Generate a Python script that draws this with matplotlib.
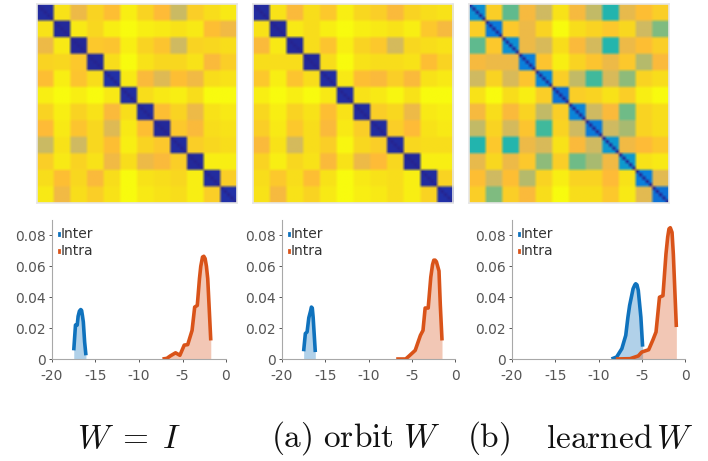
import matplotlib
matplotlib.use('Agg')
import matplotlib.pyplot as plt
from matplotlib.colors import LinearSegmentedColormap
import numpy as np

# upper triangles of the class-by-class similarity maps (0 = dark blue, 1 = yellow)
upper_identity = [
    [.96, .84, .93, .89, .98, .93, .88, .77, .92, .95, .97],
    [.97, .94, .98, 1.0, .98, .97, .96, .97, .89, .85],
    [.91, .90, .98, .93, .90, .78, .93, .94, .95],
    [.95, 1.0, .96, .94, .94, .96, .87, .92],
    [.97, .87, .81, .89, .85, .95, .96],
    [.95, .97, .98, .95, 1.0, 1.0],
    [.89, .93, .84, .96, .97],
    [.91, .87, .95, .96],
    [.92, .94, .95],
    [.98, .98],
    [.92],
]
upper_orbit = [
    [.96, .87, .95, .91, .98, .94, .92, .87, .93, .95, .96],
    [.97, .95, .98, 1.0, .98, .97, .96, .98, .91, .86],
    [.95, .90, .98, .93, .91, .79, .94, .95, .96],
    [.95, 1.0, .96, .95, .95, .96, .89, .93],
    [.97, .89, .87, .92, .87, .96, .97],
    [.96, .97, .99, .96, 1.0, 1.0],
    [.92, .94, .84, .97, .98],
    [.92, .88, .96, .97],
    [.94, .95, .95],
    [.98, .98],
    [.93],
]
upper_learned = [
    [.92, .62, .86, .78, .96, .86, .76, .52, .83, .89, .92],
    [.91, .84, .93, 1.0, .95, .93, .91, .94, .78, .66],
    [.84, .80, .95, .87, .79, .53, .84, .89, .92],
    [.90, .98, .93, .90, .84, .91, .74, .87],
    [.92, .76, .58, .80, .68, .93, .95],
    [.92, .93, .96, .92, .98, 1.0],
    [.78, .87, .64, .93, .95],
    [.78, .72, .93, .95],
    [.85, .88, .91],
    [.96, .97],
    [.82],
]
# within-class value of each block, then the value on the fine diagonal
block_identity = [.04, .03, .02, .03, .06, .05, .04, .03, .04, .03, .04, .06]
block_orbit = [.04, .03, .03, .03, .05, .05, .04, .04, .04, .03, .04, .06]
block_learned = [.33, .26, .33, .27, .30, .24, .29, .26, .36, .37, .27, .24]
diag_identity = [.0] * 12
diag_orbit = [.0] * 12
diag_learned = [.0] * 12

parula = LinearSegmentedColormap.from_list('parula', [
    (0.0, '#26238f'), (0.12, '#1c3fc0'), (0.27, '#0a7fdc'), (0.42, '#10a8c8'),
    (0.55, '#28b8a8'), (0.66, '#80bc80'), (0.78, '#cfba62'), (0.88, '#ffba38'),
    (0.95, '#f8dc1c'), (1.0, '#f8fb0e'),
])

# kernel density curves, x = log distance
inter_x = [
    [-17.5, -17.3, -17.1, -17.0, -16.85, -16.7, -16.6, -16.5, -16.4, -16.25, -16.1],
    [-17.5, -17.3, -17.1, -16.9, -16.7, -16.6, -16.5, -16.4, -16.15],
    [-8.5, -7.9, -7.3, -6.85, -6.6, -6.4, -6.0, -5.8, -5.7, -5.55, -5.4, -5.1, -4.9],
]
inter_y = [
    [.0056, .022, .022, .0276, .031, .032, .0315, .028, .024, .011, .0024],
    [.005, .0165, .0175, .0267, .031, .0336, .033, .027, .0045],
    [0, .0013, .0067, .0153, .027, .0347, .0455, .048, .0487, .048, .0444, .027, .008],
]
intra_x = [
    [-7.3, -6.8, -6.4, -5.8, -5.3, -4.8, -4.4, -3.9, -3.6, -3.3, -3.05, -2.9, -2.7, -2.55, -2.4, -2.25, -2.1, -1.95, -1.75],
    [-6.8, -5.7, -5.3, -4.6, -4.0, -3.7, -3.45, -3.1, -2.8, -2.6, -2.45, -2.3, -2.15, -1.85, -1.7, -1.5],
    [-8.0, -6.35, -5.4, -5.0, -4.2, -3.7, -3.35, -2.95, -2.55, -2.2, -2.0, -1.85, -1.7, -1.5, -1.35, -1.0],
]
intra_y = [
    [0, .0004, .002, .004, .0024, .009, .0093, .0185, .0336, .0347, .052, .060, .066, .0665, .065, .060, .052, .035, .012],
    [0, 0, .002, .0056, .0153, .0185, .033, .033, .053, .061, .064, .064, .063, .057, .035, .012],
    [0, .0002, .002, .0045, .006, .0125, .0175, .04, .041, .068, .079, .0843, .085, .082, .068, .0207],
]
captions = [r'$W\;=\;I$', r'$\mathrm{(a)\ orbit}\ W$', r'$\mathrm{(b)}$', r'$\mathrm{learned}\,W$']

plt.rcParams['mathtext.fontset'] = 'cm'
plt.rcParams['axes.unicode_minus'] = False
W, H = 708, 461
BLOCK = 5


def px_axes(fig, left, top, right, bottom):
    return fig.add_axes([left / W, 1 - bottom / H, (right - left) / W, (bottom - top) / H])


def build_map(upper, block, diag):
    n = len(block)
    m = np.zeros((n, n))
    for i, row in enumerate(upper):
        m[i, i + 1:] = row
    m = m + m.T + np.diag(block)
    m = np.kron(m, np.ones((BLOCK, BLOCK)))
    for i in range(n):
        for k in range(BLOCK):
            m[i * BLOCK + k, i * BLOCK + k] = diag[i]
    return m


def heat(fig, box, upper, block, diag):
    ax = px_axes(fig, *box)
    ax.imshow(build_map(upper, block, diag), cmap=parula, vmin=0, vmax=1,
              interpolation='bilinear', interpolation_stage='rgba', aspect='auto')
    ax.set_xticks([])
    ax.set_yticks([])
    for s in ax.spines.values():
        s.set_color('#e6e6e6')
        s.set_linewidth(1.2)


def density(fig, box, i):
    ax = px_axes(fig, *box)
    blue, red = '#0f72bd', '#d95319'
    ax.fill_between(inter_x[i], inter_y[i], color=blue, alpha=0.32, lw=0)
    ax.plot(inter_x[i], inter_y[i], color=blue, lw=2.6, solid_capstyle='butt')
    ax.fill_between(intra_x[i], intra_y[i], color=red, alpha=0.32, lw=0)
    ax.plot(intra_x[i], intra_y[i], color=red, lw=2.6, solid_capstyle='butt')
    ax.set_xlim(-20, 0)
    ax.set_ylim(0, 0.09)
    ax.set_xticks([-20, -15, -10, -5, 0])
    ax.set_yticks([0, 0.02, 0.04, 0.06, 0.08])
    ax.set_yticklabels(['0', '0.02', '0.04', '0.06', '0.08'])
    ax.tick_params(colors='#555555', labelsize=10, length=2.5, width=0.7)
    ax.tick_params(axis='x', pad=5)
    ax.tick_params(axis='y', pad=2)
    for side in ['top', 'right']:
        ax.spines[side].set_visible(False)
    for side in ['left', 'bottom']:
        ax.spines[side].set_color('#a8a8a8')
        ax.spines[side].set_linewidth(0.8)
    ax.set_facecolor('none')
    # small legend keys, as in the original
    ax.plot([-19.2, -19.2], [0.0802, 0.0818], color=blue, lw=2, clip_on=False)
    ax.plot([-19.2, -19.2], [0.0692, 0.0708], color=red, lw=2, clip_on=False)
    ax.text(-19.0, 0.081, 'Inter', fontsize=10, color='#333333', va='center')
    ax.text(-19.0, 0.070, 'Intra', fontsize=10, color='#333333', va='center')


fig = plt.figure(figsize=(W / 100, H / 100), dpi=100)
heat(fig, (37, 4, 237, 203), upper_identity, block_identity, diag_identity)
heat(fig, (253, 4, 453, 203), upper_orbit, block_orbit, diag_orbit)
heat(fig, (469, 4, 669, 203), upper_learned, block_learned, diag_learned)
density(fig, (52, 220, 226, 359), 0)
density(fig, (282, 220, 455, 359), 1)
density(fig, (512, 220, 685, 359), 2)

for txt, x in zip(captions, [77, 271, 467, 546]):
    fig.text(x / W, 1 - 438 / H, txt, fontsize=24, va='center', ha='left', color='#111111')

fig.savefig('out.png', dpi=100)
